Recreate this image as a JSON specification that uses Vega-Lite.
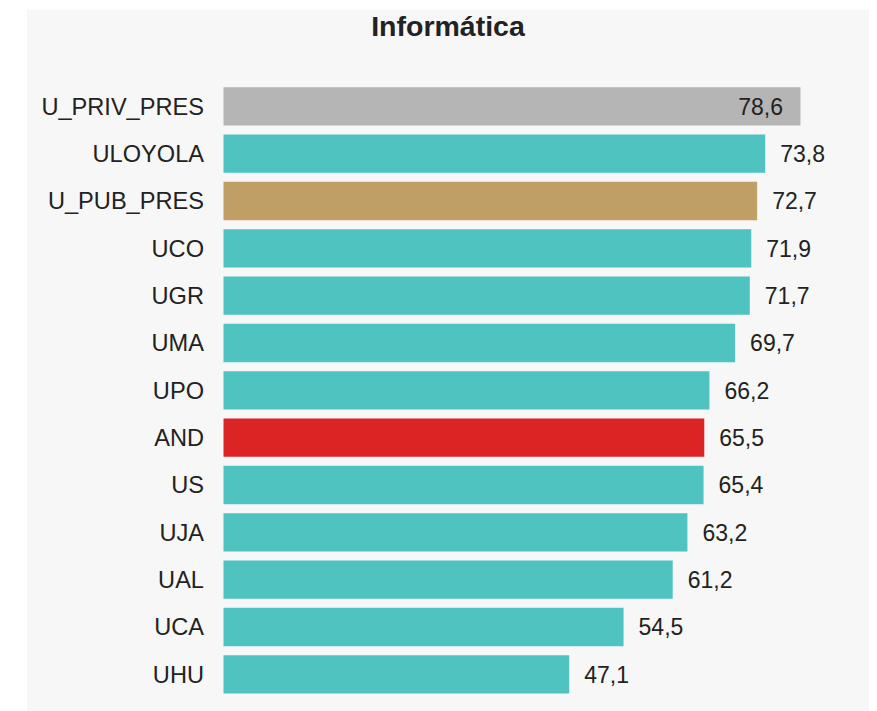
{
  "$schema": "https://vega.github.io/schema/vega-lite/v6.json",
  "width": 842,
  "height": 701,
  "autosize": {"type": "none"},
  "padding": {"left": 27, "top": 10, "right": 8, "bottom": 0},
  "background": "white",
  "config": {
    "view": {"fill": "#f7f7f7", "stroke": null},
    "locale": {"number": {"decimal": ",", "thousands": ".", "grouping": [3], "currency": ["", " €"]}},
    "font": "Liberation Sans"
  },
  "title": {"text": "Informática", "fontSize": 28.5, "fontWeight": "bold", "color": "#222222", "font": "Liberation Sans", "anchor": "middle", "offset": -30, "baseline": "alphabetic", "dy": 24.5},
  "data": {"values": [
    {"uni": "U_PRIV_PRES", "valor": 78.6, "tipo": "priv"},
    {"uni": "ULOYOLA", "valor": 73.8, "tipo": "uni"},
    {"uni": "U_PUB_PRES", "valor": 72.7, "tipo": "pub"},
    {"uni": "UCO", "valor": 71.9, "tipo": "uni"},
    {"uni": "UGR", "valor": 71.7, "tipo": "uni"},
    {"uni": "UMA", "valor": 69.7, "tipo": "uni"},
    {"uni": "UPO", "valor": 66.2, "tipo": "uni"},
    {"uni": "AND", "valor": 65.5, "tipo": "and"},
    {"uni": "US", "valor": 65.4, "tipo": "uni"},
    {"uni": "UJA", "valor": 63.2, "tipo": "uni"},
    {"uni": "UAL", "valor": 61.2, "tipo": "uni"},
    {"uni": "UCA", "valor": 54.5, "tipo": "uni"},
    {"uni": "UHU", "valor": 47.1, "tipo": "uni"}
  ]},
  "encoding": {
    "y": {"field": "uni", "type": "nominal", "sort": null, "axis": null,
          "scale": {"paddingInner": 0.19, "paddingOuter": 1.02, "align": 0.815}}
  },
  "layer": [
    {
      "mark": {"type": "bar"},
      "encoding": {
        "x": {"field": "valor", "type": "quantitative", "axis": null, "scale": {"domain": [-26.77, 87.94], "nice": false, "zero": false}},
        "x2": {"datum": 0},
        "color": {"field": "tipo", "type": "nominal", "legend": null,
                  "scale": {"domain": ["priv", "uni", "pub", "and"], "range": ["#b5b5b5", "#4ec3c0", "#bf9f65", "#dc2424"]}}
      }
    },
    {
      "mark": {"type": "text", "align": "right", "baseline": "middle", "dx": -19.5, "dy": 1.5, "fontSize": 23.6, "color": "#222222"},
      "encoding": {
        "x": {"datum": 0, "type": "quantitative"},
        "text": {"field": "uni"}
      }
    },
    {
      "transform": [{"filter": "datum.valor < 76"}],
      "mark": {"type": "text", "align": "left", "baseline": "middle", "dx": 15, "dy": 1.5, "fontSize": 23, "color": "#222222"},
      "encoding": {
        "x": {"field": "valor", "type": "quantitative"},
        "text": {"field": "valor", "format": ".1f"}
      }
    },
    {
      "transform": [{"filter": "datum.valor >= 76"}],
      "mark": {"type": "text", "align": "right", "baseline": "middle", "dx": -17.5, "dy": 1.5, "fontSize": 23, "color": "#222222"},
      "encoding": {
        "x": {"field": "valor", "type": "quantitative"},
        "text": {"field": "valor", "format": ".1f"}
      }
    }
  ]
}
